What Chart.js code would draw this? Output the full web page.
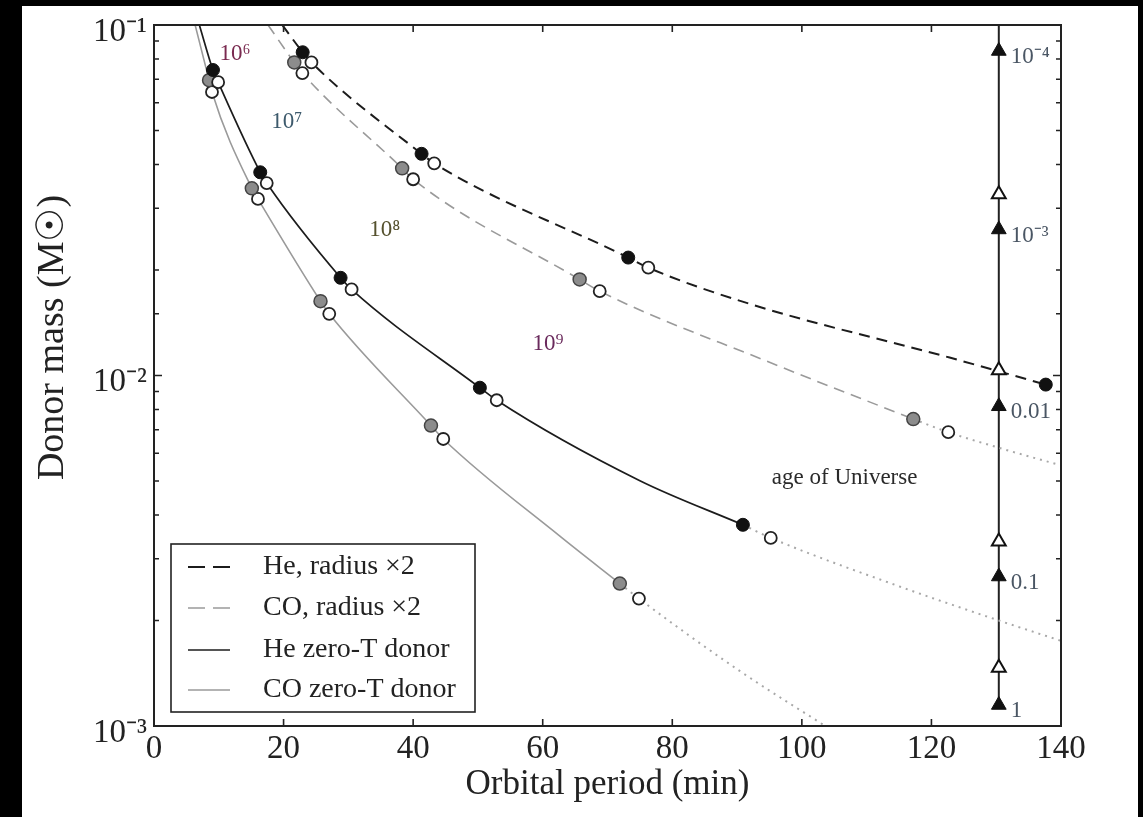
<!DOCTYPE html>
<html><head><meta charset="utf-8">
<script src="https://cdn.jsdelivr.net/npm/chart.js@4.4.1/dist/chart.umd.min.js"></script>
<style>
html,body{margin:0;padding:0;background:#000;width:1143px;height:817px;overflow:hidden}
#wrap{position:absolute;left:22px;top:6px;width:1116px;height:811px;background:#fff}
canvas{display:block}
</style></head><body>
<div id="wrap"><canvas id="c" width="1116" height="811"></canvas></div>
<script>
// ---------- data (orbital period in min, donor mass in solar masses) ----------
// He, radius x2 (dashed black)
const he2Period = [19.8, 22.95, 24.3, 41.3, 43.25, 73.2, 76.3, 92.0, 122.8, 137.65];
const he2Mass   = [0.1, 0.0836, 0.0782, 0.0429, 0.0403, 0.0217, 0.0203, 0.0160, 0.01125, 0.00942];
// CO, radius x2 (dashed grey, then dotted)
const co2Period = [17.6, 21.65, 22.9, 38.3, 40.0, 65.7, 68.8, 94.5, 117.2];
const co2Mass   = [0.1, 0.0782, 0.0729, 0.039, 0.0363, 0.0188, 0.0174, 0.011, 0.00751];
const co2DotPeriod = [117.2, 122.6, 130.55, 140];
const co2DotMass   = [0.00751, 0.00689, 0.00621, 0.00554];
// He zero-T donor (solid black, then dotted)
const heZeroPeriod = [7.0, 9.1, 9.9, 16.4, 17.4, 28.8, 30.5, 50.3, 52.9, 75.0, 90.9];
const heZeroMass   = [0.1, 0.0744, 0.0687, 0.038, 0.0354, 0.019, 0.0176, 0.00923, 0.0085, 0.00501, 0.00375];
const heZeroDotPeriod = [90.9, 95.2, 115.1, 130.4, 140];
const heZeroDotMass   = [0.00375, 0.00344, 0.0025, 0.002, 0.00175];
// CO zero-T donor (solid grey, then dotted)
const coZeroPeriod = [6.35, 8.5, 8.95, 15.1, 16.05, 25.7, 27.05, 42.75, 44.65, 62.65, 71.9];
const coZeroMass   = [0.1, 0.0696, 0.0644, 0.0342, 0.0319, 0.0163, 0.015, 0.0072, 0.00659, 0.00348, 0.00255];
const coZeroDotPeriod = [71.9, 74.85, 90.4, 103.6];
const coZeroDotMass   = [0.00255, 0.00231, 0.001436, 0.001];

// markers
const heZeroFilledP = [9.1, 16.4, 28.8, 50.3, 90.9];
const heZeroFilledM = [0.0744, 0.038, 0.019, 0.00923, 0.00375];
const heZeroOpenP = [9.9, 17.4, 30.5, 52.9, 95.2];
const heZeroOpenM = [0.0687, 0.0354, 0.0176, 0.0085, 0.00344];
const coZeroFilledP = [8.5, 15.1, 25.7, 42.75, 71.9];
const coZeroFilledM = [0.0696, 0.0342, 0.0163, 0.0072, 0.00255];
const coZeroOpenP = [8.95, 16.05, 27.05, 44.65, 74.85];
const coZeroOpenM = [0.0644, 0.0319, 0.015, 0.00659, 0.00231];
const he2FilledP = [22.95, 41.3, 73.2, 137.65];
const he2FilledM = [0.0836, 0.0429, 0.0217, 0.00942];
const he2OpenP = [24.3, 43.25, 76.3];
const he2OpenM = [0.0782, 0.0403, 0.0203];
const co2FilledP = [21.65, 38.3, 65.7, 117.2];
const co2FilledM = [0.0782, 0.039, 0.0188, 0.00751];
const co2OpenP = [22.9, 40.0, 68.8, 122.6];
const co2OpenM = [0.0729, 0.0363, 0.0174, 0.00689];

// age-of-Universe scale (vertical line with triangles)
const agePeriod = 130.4;
const ageLineMass = [0.001148, 0.1];
const ageFilledMass = [0.0843, 0.0261, 0.00817, 0.00267, 0.001148];
const ageFilledLabels = ['10\u207B\u2074', '10\u207B\u00B3', '0.01', '0.1', '1'];
const ageOpenMass = [0.0329, 0.01035, 0.00336, 0.001466];

// text annotations (years)
const annoTexts = ['10\u2076', '10\u2077', '10\u2078', '10\u2079', 'age of Universe'];
const annoPeriod = [12.5, 20.5, 35.6, 60.8, 106.6];
const annoMass = [0.0825, 0.0528, 0.0260, 0.01233, 0.00511];
const annoColors = ['#7a2a50', '#3d5a6c', '#55512e', '#6a2a5c', '#2a2a2a'];

// axis
const xTickValues = [0, 20, 40, 60, 80, 100, 120, 140];
const yDecadeLabels = {'0.1': '10\u207B\u00B9', '0.01': '10\u207B\u00B2', '0.001': '10\u207B\u00B3'};

const legendLabels = ['He, radius \u00D72', 'CO, radius \u00D72', 'He zero-T donor', 'CO zero-T donor'];

// ---------- build ----------
const pts = (px, my) => px.map((p, i) => ({x: p, y: my[i]}));
const SERIF = "'Liberation Serif', 'Times New Roman', serif";

const BLACK = '#1c1c1c', GREY = '#9a9a9a', DOTC = '#a8a8a8';
const lineBase = {showLine: true, pointRadius: 0, fill: false, cubicInterpolationMode: 'monotone', order: 5};
const markerBase = {showLine: false, order: 0};

const datasets = [
  // lines
  Object.assign({label: legendLabels[0], data: pts(he2Period, he2Mass), borderColor: BLACK, borderWidth: 2, borderDash: [11, 7]}, lineBase),
  Object.assign({label: legendLabels[1], data: pts(co2Period, co2Mass), borderColor: GREY, borderWidth: 1.6, borderDash: [11, 7]}, lineBase),
  Object.assign({label: legendLabels[2], data: pts(heZeroPeriod, heZeroMass), borderColor: BLACK, borderWidth: 1.7}, lineBase),
  Object.assign({label: legendLabels[3], data: pts(coZeroPeriod, coZeroMass), borderColor: GREY, borderWidth: 1.6}, lineBase),
  Object.assign({label: 'co2 dotted', data: pts(co2DotPeriod, co2DotMass), borderColor: DOTC, borderWidth: 2, borderDash: [2, 5]}, lineBase),
  Object.assign({label: 'he0 dotted', data: pts(heZeroDotPeriod, heZeroDotMass), borderColor: DOTC, borderWidth: 2, borderDash: [2, 5]}, lineBase),
  Object.assign({label: 'co0 dotted', data: pts(coZeroDotPeriod, coZeroDotMass), borderColor: DOTC, borderWidth: 2, borderDash: [2, 5]}, lineBase),
  Object.assign({label: 'age line', data: ageLineMass.map(m => ({x: agePeriod, y: m})), borderColor: '#222', borderWidth: 2}, lineBase, {cubicInterpolationMode: 'default', tension: 0}),
  // markers
  Object.assign({label: 'he0 filled', data: pts(heZeroFilledP, heZeroFilledM), pointRadius: 6.5, pointBackgroundColor: '#111', pointBorderColor: '#111', pointBorderWidth: 1}, markerBase),
  Object.assign({label: 'he0 open', data: pts(heZeroOpenP, heZeroOpenM), pointRadius: 6, pointBackgroundColor: '#fff', pointBorderColor: '#222', pointBorderWidth: 1.8}, markerBase),
  Object.assign({label: 'co0 filled', data: pts(coZeroFilledP, coZeroFilledM), pointRadius: 6.5, pointBackgroundColor: '#8c8c8c', pointBorderColor: '#444', pointBorderWidth: 1.5}, markerBase),
  Object.assign({label: 'co0 open', data: pts(coZeroOpenP, coZeroOpenM), pointRadius: 6, pointBackgroundColor: '#fff', pointBorderColor: '#222', pointBorderWidth: 1.8}, markerBase),
  Object.assign({label: 'he2 filled', data: pts(he2FilledP, he2FilledM), pointRadius: 6.5, pointBackgroundColor: '#111', pointBorderColor: '#111', pointBorderWidth: 1}, markerBase),
  Object.assign({label: 'he2 open', data: pts(he2OpenP, he2OpenM), pointRadius: 6, pointBackgroundColor: '#fff', pointBorderColor: '#222', pointBorderWidth: 1.8}, markerBase),
  Object.assign({label: 'co2 filled', data: pts(co2FilledP, co2FilledM), pointRadius: 6.5, pointBackgroundColor: '#8c8c8c', pointBorderColor: '#444', pointBorderWidth: 1.5}, markerBase),
  Object.assign({label: 'co2 open', data: pts(co2OpenP, co2OpenM), pointRadius: 6, pointBackgroundColor: '#fff', pointBorderColor: '#222', pointBorderWidth: 1.8}, markerBase),
  Object.assign({label: 'age filled', data: ageFilledMass.map(m => ({x: agePeriod, y: m})), pointStyle: 'triangle', pointRadius: 8.5, pointBackgroundColor: '#111', pointBorderColor: '#111', pointBorderWidth: 1}, markerBase),
  Object.assign({label: 'age open', data: ageOpenMass.map(m => ({x: agePeriod, y: m})), pointStyle: 'triangle', pointRadius: 8, pointBackgroundColor: '#fff', pointBorderColor: '#111', pointBorderWidth: 2}, markerBase)
];

const isDecade = v => Math.abs(Math.log10(v) - Math.round(Math.log10(v))) < 1e-6;

const frameTicks = {
  id: 'frameTicks',
  afterDatasetsDraw(chart) {
    const {ctx, chartArea: a, scales: {x, y}} = chart;
    ctx.save();
    ctx.strokeStyle = '#222';
    ctx.lineWidth = 1.6;
    ctx.beginPath();
    x.ticks.forEach(t => {
      const px = x.getPixelForValue(t.value);
      ctx.moveTo(px, a.bottom); ctx.lineTo(px, a.bottom - 7);
      ctx.moveTo(px, a.top); ctx.lineTo(px, a.top + 7);
    });
    y.ticks.forEach(t => {
      const py = y.getPixelForValue(t.value);
      const L = isDecade(t.value) ? 8 : 5;
      ctx.moveTo(a.left, py); ctx.lineTo(a.left + L, py);
      ctx.moveTo(a.right, py); ctx.lineTo(a.right - L, py);
    });
    ctx.stroke();
    ctx.lineWidth = 2;
    ctx.strokeRect(a.left, a.top, a.right - a.left, a.bottom - a.top);
    ctx.restore();
  }
};

const textPlugin = {
  id: 'textPlugin',
  afterDatasetsDraw(chart) {
    const {ctx, scales: {x, y}} = chart;
    ctx.save();
    ctx.textBaseline = 'middle';
    ctx.textAlign = 'center';
    annoTexts.forEach((t, i) => {
      ctx.font = '23px ' + SERIF;
      ctx.fillStyle = annoColors[i];
      ctx.fillText(t, x.getPixelForValue(annoPeriod[i]), y.getPixelForValue(annoMass[i]));
    });
    ctx.textAlign = 'left';
    ctx.fillStyle = '#4a5664';
    ctx.font = '23px ' + SERIF;
    ageFilledLabels.forEach((t, i) => {
      ctx.fillText(t, x.getPixelForValue(agePeriod) + 12, y.getPixelForValue(ageFilledMass[i]) + 6);
    });
    ctx.restore();
  }
};

const legendPlugin = {
  id: 'boxLegend',
  afterDraw(chart) {
    const {ctx, chartArea: a} = chart;
    const bx = a.left + 17, by = a.bottom - 182, bw = 304, bh = 168;
    ctx.save();
    ctx.fillStyle = '#fff';
    ctx.fillRect(bx, by, bw, bh);
    ctx.strokeStyle = '#222';
    ctx.lineWidth = 1.6;
    ctx.strokeRect(bx, by, bw, bh);
    const rows = [23, 64, 106, 146];
    ctx.font = '28px ' + SERIF;
    ctx.textBaseline = 'middle';
    ctx.textAlign = 'left';
    for (let i = 0; i < 4; i++) {
      const ds = chart.data.datasets[i];
      const yy = by + rows[i];
      ctx.beginPath();
      ctx.strokeStyle = ds.borderColor;
      ctx.lineWidth = ds.borderWidth;
      ctx.setLineDash(ds.borderDash ? [17, 8] : []);
      ctx.moveTo(bx + 17, yy); ctx.lineTo(bx + 59, yy);
      ctx.stroke();
      ctx.setLineDash([]);
      ctx.fillStyle = '#222';
      ctx.fillText(legendLabels[i], bx + 92, yy);
    }
    ctx.restore();
  }
};

new Chart(document.getElementById('c'), {
  type: 'scatter',
  data: {datasets},
  plugins: [frameTicks, textPlugin, legendPlugin],
  options: {
    responsive: false,
    animation: false,
    devicePixelRatio: 1,
    layout: {padding: {left: 12, top: 19, right: 77, bottom: 15}},
    plugins: {legend: {display: false}, tooltip: {enabled: false}},
    events: [],
    scales: {
      x: {
        type: 'linear', min: 0, max: 140,
        afterBuildTicks: s => { s.ticks = xTickValues.map(v => ({value: v})); },
        ticks: {color: '#222', font: {family: SERIF, size: 33, lineHeight: 1}, padding: 7, maxRotation: 0, autoSkip: false},
        grid: {display: false, drawTicks: false},
        border: {display: false},
        title: {display: true, text: 'Orbital period (min)', color: '#222', font: {family: SERIF, size: 35, lineHeight: 1}, padding: 0},
        afterFit: s => { s.height = 76; s.paddingLeft = 0; s.paddingRight = 0; }
      },
      y: {
        type: 'logarithmic', min: 0.001, max: 0.1,
        ticks: {
          color: '#222', font: {family: SERIF, size: 33, lineHeight: 1}, padding: 7, autoSkip: false, labelOffset: 7,
          callback: v => { const k = String(+v.toPrecision(3)); return yDecadeLabels[k] || ''; }
        },
        grid: {display: false, drawTicks: false},
        border: {display: false},
        title: {display: true, text: '\u2002\u2002\u2002\u2002Donor mass (M\u2609)', color: '#222', font: {family: SERIF, size: 38, lineHeight: 1}, padding: 0},
        afterFit: s => { s.width = 120; s.paddingTop = 0; s.paddingBottom = 0; }
      }
    }
  }
});
</script>
</body></html>
